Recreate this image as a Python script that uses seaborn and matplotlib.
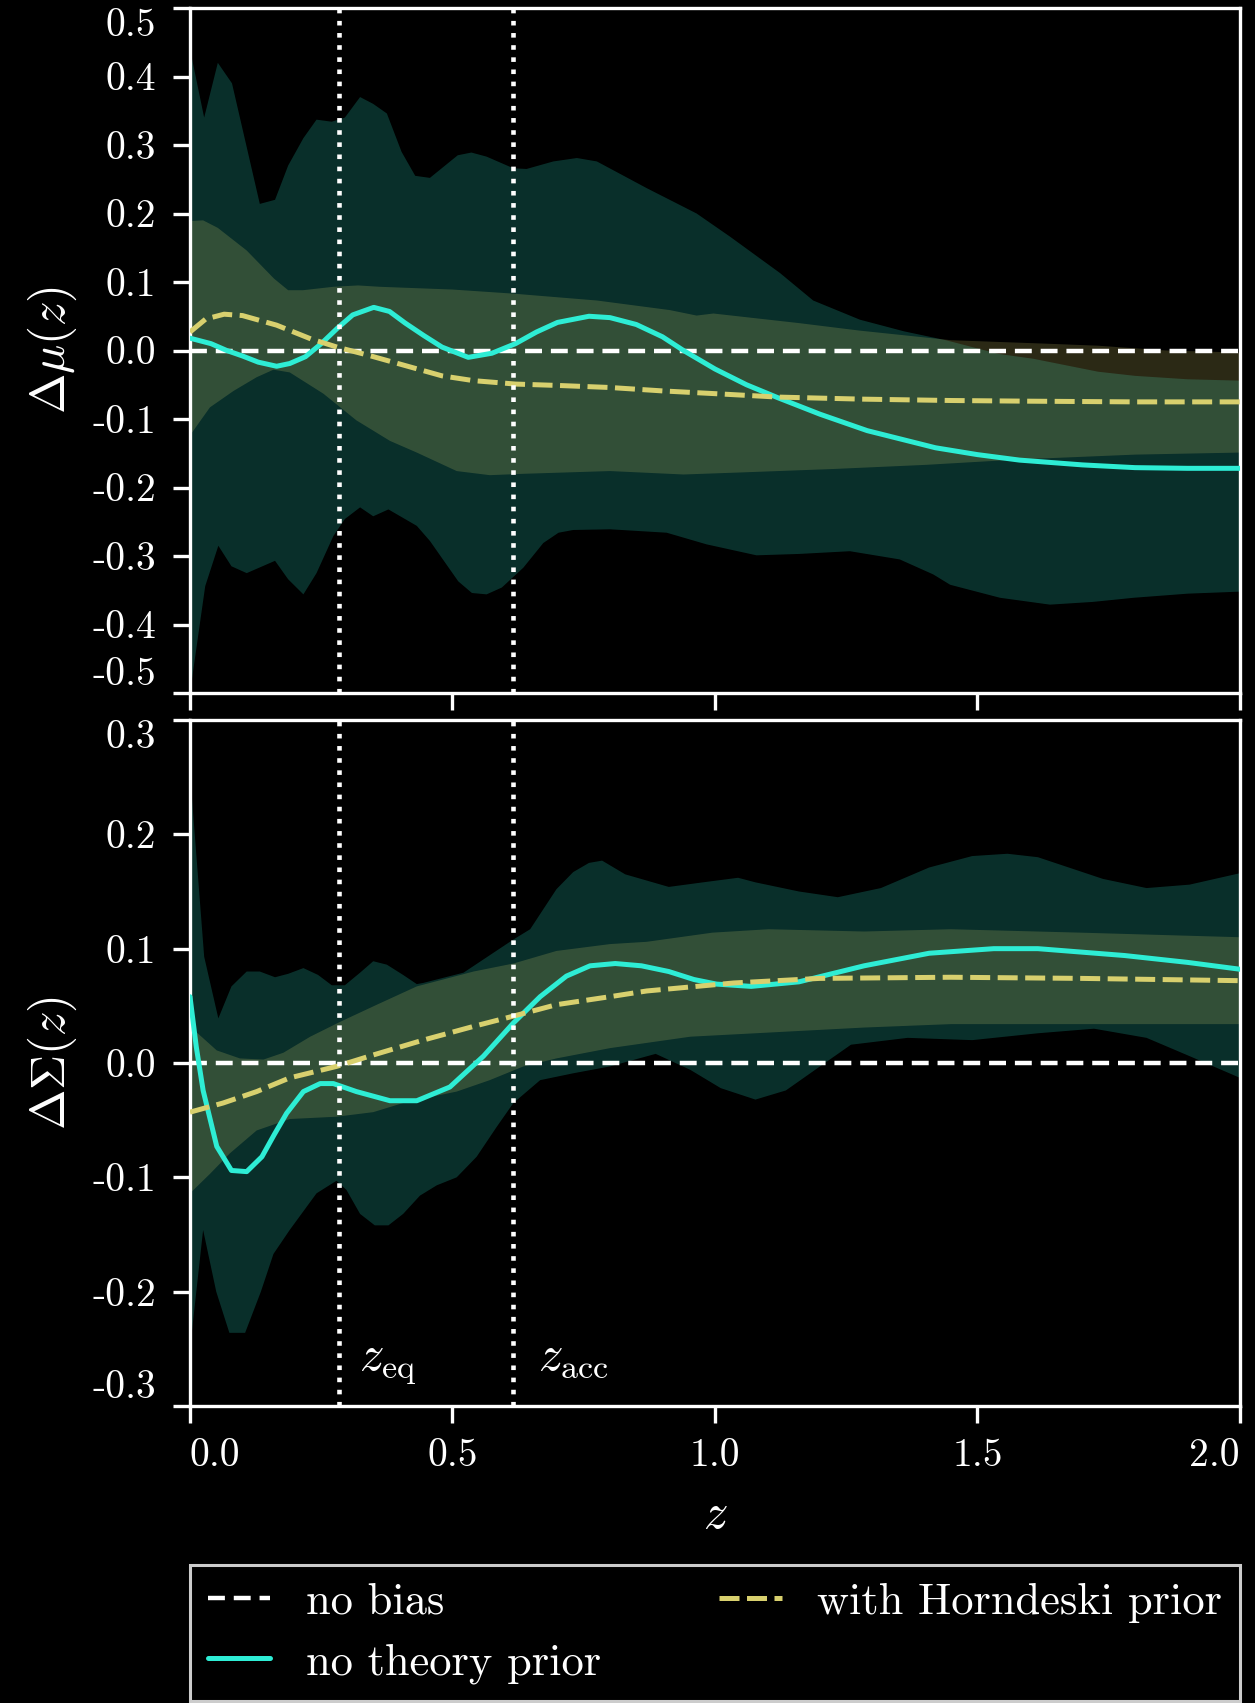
import numpy as np
import matplotlib
matplotlib.use("Agg")
import matplotlib.pyplot as plt
from matplotlib.lines import Line2D
import seaborn as sns

# ---------------- data ----------------
# Delta mu(z): no theory prior (mean line)
mu_free_z = [0.0, 0.04, 0.07, 0.1, 0.13, 0.165, 0.19, 0.22, 0.25, 0.28, 0.31, 0.35, 0.38, 0.41, 0.445,
             0.48, 0.53, 0.575, 0.62, 0.66, 0.70, 0.76, 0.80, 0.85, 0.90, 0.94, 1.0, 1.06, 1.12, 1.2,
             1.29, 1.42, 1.5, 1.58, 1.7, 1.8, 1.9, 2.0]
mu_free = [0.018, 0.010, 0.0, -0.008, -0.017, -0.023, -0.019, -0.009, 0.010, 0.032, 0.052, 0.063, 0.057,
           0.040, 0.022, 0.005, -0.010, -0.004, 0.010, 0.027, 0.041, 0.050, 0.048, 0.038, 0.020, 0.0,
           -0.027, -0.050, -0.069, -0.093, -0.117, -0.142, -0.152, -0.160, -0.167, -0.171, -0.172, -0.172]
# Delta mu(z): with Horndeski prior
mu_hd_z = [0.0, 0.03, 0.065, 0.1, 0.165, 0.23, 0.28, 0.34, 0.41, 0.48, 0.54, 0.62, 0.7, 0.8, 0.9, 1.0,
           1.12, 1.28, 1.45, 1.6, 1.8, 2.0]
mu_hd = [0.027, 0.046, 0.053, 0.051, 0.037, 0.017, 0.005, -0.007, -0.022, -0.037, -0.044, -0.049, -0.051,
         -0.054, -0.059, -0.063, -0.068, -0.071, -0.073, -0.074, -0.075, -0.075]
# Delta mu(z) bands
mu_free_up_z = [0, 0.027, 0.053, 0.08, 0.133, 0.162, 0.187, 0.216, 0.241, 0.27, 0.295, 0.324, 0.349, 0.375,
                0.403, 0.429, 0.457, 0.51, 0.536, 0.565, 0.616, 0.641, 0.692, 0.737, 0.775, 0.87, 0.965,
                1.029, 1.124, 1.187, 1.276, 1.36, 1.44, 1.54, 1.606, 1.73, 1.8, 1.9, 2.0]
mu_free_up = [0.44, 0.34, 0.42, 0.39, 0.214, 0.22, 0.27, 0.31, 0.337, 0.334, 0.34, 0.37, 0.36, 0.346,
              0.29, 0.255, 0.252, 0.285, 0.289, 0.283, 0.266, 0.265, 0.276, 0.281, 0.276, 0.237, 0.2,
              0.166, 0.113, 0.073, 0.045, 0.028, 0.015, -0.005, -0.012, -0.031, -0.037, -0.042, -0.044]
mu_free_lo_z = [0, 0.029, 0.054, 0.079, 0.108, 0.162, 0.187, 0.216, 0.241, 0.273, 0.295, 0.324, 0.349,
                0.378, 0.432, 0.457, 0.511, 0.537, 0.565, 0.594, 0.635, 0.673, 0.702, 0.73, 0.8, 0.908,
                0.984, 1.079, 1.16, 1.257, 1.352, 1.416, 1.448, 1.543, 1.638, 1.72, 1.797, 1.9, 2.0]
mu_free_lo = [-0.5, -0.344, -0.285, -0.315, -0.325, -0.307, -0.334, -0.356, -0.325, -0.271, -0.246,
              -0.229, -0.242, -0.232, -0.256, -0.278, -0.337, -0.354, -0.356, -0.346, -0.317, -0.281,
              -0.266, -0.262, -0.261, -0.266, -0.283, -0.299, -0.297, -0.293, -0.305, -0.327, -0.342,
              -0.361, -0.371, -0.367, -0.361, -0.355, -0.352]
mu_hd_up_z = [0, 0.025, 0.053, 0.108, 0.16, 0.187, 0.215, 0.273, 0.32, 0.362, 0.5, 0.616, 0.775, 0.914,
              0.965, 0.997, 1.16, 1.276, 1.45, 1.63, 1.73, 1.86, 2.0]
mu_hd_up = [0.189, 0.19, 0.179, 0.146, 0.105, 0.088, 0.088, 0.093, 0.095, 0.093, 0.089, 0.083, 0.073,
            0.059, 0.051, 0.054, 0.04, 0.029, 0.015, 0.01, 0.007, 0.0, -0.003]
mu_hd_lo_z = [0, 0.038, 0.083, 0.127, 0.159, 0.19, 0.254, 0.317, 0.381, 0.432, 0.508, 0.571, 0.635, 0.8,
              0.94, 1.05, 1.225, 1.4, 1.58, 1.8, 2.0]
mu_hd_lo = [-0.124, -0.083, -0.059, -0.039, -0.028, -0.032, -0.063, -0.102, -0.132, -0.149, -0.176,
            -0.182, -0.180, -0.176, -0.181, -0.178, -0.173, -0.167, -0.159, -0.152, -0.149]

# Delta Sigma(z): no theory prior
sig_free_z = [0, 0.012, 0.025, 0.051, 0.079, 0.108, 0.137, 0.16, 0.184, 0.216, 0.248, 0.273, 0.317, 0.381,
              0.432, 0.495, 0.559, 0.616, 0.667, 0.717, 0.762, 0.81, 0.86, 0.912, 0.96, 1.003, 1.069,
              1.16, 1.284, 1.408, 1.531, 1.615, 1.78, 1.9, 2.0]
sig_free = [0.058, 0.014, -0.024, -0.073, -0.094, -0.095, -0.082, -0.063, -0.044, -0.025, -0.018, -0.018,
            -0.025, -0.033, -0.033, -0.021, 0.006, 0.035, 0.058, 0.076, 0.085, 0.087, 0.085, 0.080, 0.073,
            0.069, 0.067, 0.071, 0.085, 0.096, 0.100, 0.100, 0.094, 0.088, 0.082]
# Delta Sigma(z): with Horndeski prior
sig_hd_z = [0, 0.063, 0.127, 0.19, 0.279, 0.349, 0.444, 0.54, 0.616, 0.698, 0.8, 0.87, 1.036, 1.2, 1.449,
            1.697, 2.0]
sig_hd = [-0.043, -0.035, -0.025, -0.013, -0.003, 0.007, 0.020, 0.032, 0.041, 0.051, 0.058, 0.063, 0.070,
          0.074, 0.075, 0.074, 0.072]
# Delta Sigma(z) bands
sig_free_up_z = [0, 0.027, 0.054, 0.079, 0.108, 0.133, 0.162, 0.187, 0.216, 0.244, 0.27, 0.295, 0.324,
                 0.349, 0.375, 0.406, 0.432, 0.444, 0.521, 0.616, 0.648, 0.698, 0.73, 0.76, 0.785, 0.829,
                 0.912, 0.977, 1.044, 1.077, 1.16, 1.234, 1.316, 1.408, 1.49, 1.557, 1.615, 1.739, 1.822,
                 1.904, 2.0]
sig_free_up = [0.254, 0.093, 0.039, 0.067, 0.080, 0.080, 0.075, 0.078, 0.083, 0.077, 0.068, 0.068, 0.079,
               0.089, 0.086, 0.077, 0.069, 0.070, 0.079, 0.108, 0.117, 0.152, 0.167, 0.175, 0.177, 0.165,
               0.154, 0.158, 0.162, 0.158, 0.150, 0.145, 0.153, 0.171, 0.181, 0.183, 0.180, 0.161, 0.153,
               0.156, 0.166]
sig_free_lo_z = [0, 0.025, 0.05, 0.075, 0.105, 0.135, 0.159, 0.19, 0.241, 0.279, 0.298, 0.324, 0.352,
                 0.378, 0.406, 0.438, 0.47, 0.508, 0.546, 0.584, 0.616, 0.667, 0.73, 0.8, 0.887, 0.953,
                 1.011, 1.077, 1.135, 1.2, 1.259, 1.367, 1.49, 1.615, 1.722, 1.822, 1.904, 2.0]
sig_free_lo = [-0.25, -0.146, -0.2, -0.236, -0.236, -0.2, -0.167, -0.146, -0.114, -0.103, -0.111, -0.132,
               -0.142, -0.142, -0.132, -0.116, -0.107, -0.100, -0.082, -0.056, -0.035, -0.015, -0.009,
               -0.003, 0.008, -0.006, -0.022, -0.032, -0.024, -0.003, 0.016, 0.022, 0.020, 0.026, 0.030,
               0.022, 0.006, -0.013]
sig_hd_up_z = [0, 0.051, 0.095, 0.14, 0.178, 0.229, 0.286, 0.356, 0.432, 0.54, 0.616, 0.698, 0.8, 0.87,
               0.995, 1.102, 1.284, 1.449, 1.697, 2.0]
sig_hd_up = [0.032, 0.011, 0.004, 0.003, 0.009, 0.023, 0.036, 0.051, 0.067, 0.080, 0.087, 0.098, 0.104,
             0.106, 0.114, 0.117, 0.115, 0.117, 0.114, 0.110]
sig_hd_lo_z = [0, 0.038, 0.076, 0.127, 0.19, 0.279, 0.349, 0.413, 0.508, 0.571, 0.635, 0.698, 0.8, 0.953,
               1.118, 1.284, 1.449, 2.0]
sig_hd_lo = [-0.114, -0.097, -0.079, -0.059, -0.049, -0.047, -0.043, -0.034, -0.025, -0.015, -0.003,
             0.004, 0.013, 0.023, 0.027, 0.031, 0.034, 0.034]

z_eq = 0.284
z_acc = 0.616
mu_ticks = [-0.5, -0.4, -0.3, -0.2, -0.1, 0.0, 0.1, 0.2, 0.3, 0.4, 0.5]
sig_ticks = [-0.3, -0.2, -0.1, 0.0, 0.1, 0.2, 0.3]
z_ticks = [0.0, 0.5, 1.0, 1.5, 2.0]
legend_labels = ["no bias", "no theory prior", "with Horndeski prior"]

# ---------------- style ----------------
TEAL = "#2eedd5"
YELLOW = "#d8d06e"
sns.set_theme(style="ticks", rc={
    "figure.facecolor": "black", "axes.facecolor": "black", "savefig.facecolor": "black",
    "axes.edgecolor": "white", "text.color": "white", "axes.labelcolor": "white",
    "xtick.color": "white", "ytick.color": "white", "axes.linewidth": 2.4,
    "xtick.major.size": 12.2, "ytick.major.size": 12.2,
    "xtick.major.width": 2.4, "ytick.major.width": 2.4,
    "xtick.major.pad": 11, "ytick.major.pad": 12,
    "axes.grid": False,
})
plt.rcParams["font.family"] = ["cmr10", "DejaVu Serif"]
plt.rcParams["mathtext.fontset"] = "cm"
plt.rcParams["axes.unicode_minus"] = False
plt.rcParams["axes.formatter.use_mathtext"] = False

fig = plt.figure(figsize=(12.55, 17.03), dpi=100)
ax1 = fig.add_axes([0.15139, 0.59307, 0.83665, 0.40223])
ax2 = fig.add_axes([0.15139, 0.17440, 0.83665, 0.40282])

LW = 3.6
LW0 = 3.2
DASH0 = (3.8, 2.0)
DASH_HD = (4.0, 1.5)


def panel(ax, fz_up, f_up, fz_lo, f_lo, hz_up, h_up, hz_lo, h_lo, lz, lv, hz, hv):
    ax.fill(np.concatenate([fz_up, fz_lo[::-1]]), np.concatenate([f_up, f_lo[::-1]]),
            color=TEAL, alpha=0.2, lw=0, zorder=1)
    ax.fill(np.concatenate([hz_up, hz_lo[::-1]]), np.concatenate([h_up, h_lo[::-1]]),
            color=YELLOW, alpha=0.2, lw=0, zorder=1.1)
    ax.axhline(0.0, color="white", lw=LW0, zorder=2, dashes=DASH0)
    sns.lineplot(x=lz, y=lv, ax=ax, color=TEAL, linewidth=LW, zorder=3, legend=False)
    sns.lineplot(x=hz, y=hv, ax=ax, color=YELLOW, linewidth=LW, zorder=3.1, legend=False)
    ax.lines[-1].set_dashes(DASH_HD)
    for zz in (z_eq, z_acc):
        ax.axvline(zz, color="white", lw=3.3, ls=":", zorder=4)
    ax.set_xlim(0, 2.0)
    ax.set_xticks(z_ticks)
    ax.tick_params(labelsize=28.5)


panel(ax1, np.array(mu_free_up_z), np.array(mu_free_up), np.array(mu_free_lo_z), np.array(mu_free_lo),
      np.array(mu_hd_up_z), np.array(mu_hd_up), np.array(mu_hd_lo_z), np.array(mu_hd_lo),
      mu_free_z, mu_free, mu_hd_z, mu_hd)
panel(ax2, np.array(sig_free_up_z), np.array(sig_free_up), np.array(sig_free_lo_z), np.array(sig_free_lo),
      np.array(sig_hd_up_z), np.array(sig_hd_up), np.array(sig_hd_lo_z), np.array(sig_hd_lo),
      sig_free_z, sig_free, sig_hd_z, sig_hd)

ax1.set_ylim(-0.5, 0.5)
ax1.set_yticks(mu_ticks, [f"{t:.1f}" for t in mu_ticks])
ax1.set_xticklabels([])
ax2.set_ylim(-0.3, 0.3)
ax2.set_yticks(sig_ticks, [f"{t:.1f}" for t in sig_ticks])
ax2.set_xticks(z_ticks, [f"{t:.1f}" for t in z_ticks])

ax1.set_ylabel(r"$\Delta\mu(z)$", fontsize=35, labelpad=10)
ax2.set_ylabel(r"$\Delta\Sigma(z)$", fontsize=35, labelpad=10)
ax2.set_xlabel(r"$z$", fontsize=35, labelpad=14)
ax1.set_xlabel("")

for ax in (ax1, ax2):
    ylabs = ax.get_yticklabels()
    ylabs[0].set_va("bottom")
    ylabs[-1].set_va("top")
xl = ax2.get_xticklabels()
xl[0].set_ha("left")
xl[-1].set_ha("right")

ax2.text(z_eq + 0.038, -0.268, r"$z_{\rm eq}$", fontsize=35, ha="left", va="baseline")
ax2.text(z_acc + 0.046, -0.268, r"$z_{\rm acc}$", fontsize=35, ha="left", va="baseline")

handles = [Line2D([], [], color="white", lw=LW0, dashes=DASH0),
           Line2D([], [], color=TEAL, lw=LW),
           Line2D([], [], color=YELLOW, lw=LW, dashes=DASH_HD)]
leg = ax2.legend(handles, legend_labels, loc="upper left", bbox_to_anchor=(0, -0.2318, 1, 0),
                 mode="expand", ncol=2, borderaxespad=0, fontsize=32, frameon=True, fancybox=False,
                 edgecolor="#cccccc", facecolor="black", framealpha=1, handlelength=1.4,
                 handletextpad=0.8, labelspacing=0.45, borderpad=0.4)
leg.get_frame().set_linewidth(2.2)
for t in leg.get_texts():
    t.set_color("white")

fig.savefig("out.png", dpi=100, facecolor="black")
